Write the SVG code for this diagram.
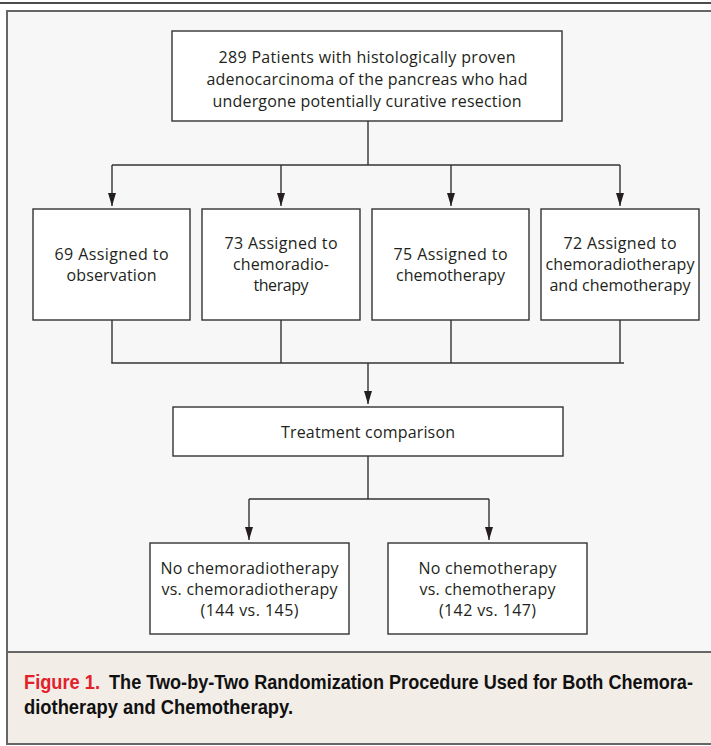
<svg xmlns="http://www.w3.org/2000/svg" width="711" height="746" viewBox="0 0 711 746">
  <defs>
    <marker id="arr" viewBox="0 0 13 8" refX="13" refY="4" markerWidth="13" markerHeight="8" markerUnits="userSpaceOnUse" orient="auto">
      <path d="M0,0 L13,4 L0,8 z" fill="#231f20"/>
    </marker>
    <style>
      .box { fill: #ffffff; stroke: #333333; stroke-width: 1.4; }
      .t { font-family: "Open Sans", "Noto Sans", "DejaVu Sans", sans-serif; font-size: 16px; fill: #231f20; text-anchor: middle; }
      .ln { fill: none; stroke: #333333; stroke-width: 1.4; }
      .cap { font-family: "Liberation Sans", Arial, sans-serif; font-weight: bold; font-size: 19.5px; }
    </style>
  </defs>

  <rect x="0" y="0" width="711" height="746" fill="#ffffff"/>
  <line x1="0" y1="3" x2="711" y2="3" stroke="#111111" stroke-width="1.5"/>
  <rect x="7" y="11" width="710" height="641" fill="#f7f7f7" stroke="#666666" stroke-width="2"/>
  <rect x="7" y="652" width="710" height="92" fill="#f2ede7" stroke="#666666" stroke-width="2"/>

  <g id="connectors">
    <polyline class="ln" points="368,121 368,165"/>
    <line class="ln" x1="112" y1="165" x2="620" y2="165"/>
    <line class="ln" x1="112" y1="165" x2="112" y2="206" marker-end="url(#arr)"/>
    <line class="ln" x1="281" y1="165" x2="281" y2="206" marker-end="url(#arr)"/>
    <line class="ln" x1="451" y1="165" x2="451" y2="206" marker-end="url(#arr)"/>
    <line class="ln" x1="620" y1="165" x2="620" y2="206" marker-end="url(#arr)"/>
    <line class="ln" x1="112" y1="320" x2="112" y2="363"/>
    <line class="ln" x1="281" y1="320" x2="281" y2="363"/>
    <line class="ln" x1="451" y1="320" x2="451" y2="363"/>
    <line class="ln" x1="620" y1="320" x2="620" y2="363"/>
    <line class="ln" x1="111.3" y1="363" x2="624" y2="363"/>
    <line class="ln" x1="368" y1="363" x2="368" y2="404" marker-end="url(#arr)"/>
    <line class="ln" x1="368" y1="456" x2="368" y2="499"/>
    <line class="ln" x1="249" y1="499" x2="489" y2="499"/>
    <line class="ln" x1="249" y1="499" x2="249" y2="540" marker-end="url(#arr)"/>
    <line class="ln" x1="489" y1="499" x2="489" y2="540" marker-end="url(#arr)"/>
  </g>

  <g id="n-patients">
    <rect class="box" x="172" y="31" width="390" height="90"/>
    <text class="t" x="367" y="63" textLength="297">289 Patients with histologically proven</text>
    <text class="t" x="367" y="85" textLength="321">adenocarcinoma of the pancreas who had</text>
    <text class="t" x="367" y="107" textLength="309">undergone potentially curative resection</text>
  </g>

  <g id="n-observation">
    <rect class="box" x="33" y="209" width="157" height="111"/>
    <text class="t" x="111.5" y="260" textLength="114">69 Assigned to</text>
    <text class="t" x="111.5" y="281" textLength="90">observation</text>
  </g>

  <g id="n-chemoradio">
    <rect class="box" x="202" y="209" width="158" height="111"/>
    <text class="t" x="281" y="249" textLength="113">73 Assigned to</text>
    <text class="t" x="281" y="270" textLength="96">chemoradio-</text>
    <text class="t" x="281" y="291" textLength="55">therapy</text>
  </g>

  <g id="n-chemo">
    <rect class="box" x="372" y="209" width="157" height="111"/>
    <text class="t" x="450.5" y="260" textLength="114">75 Assigned to</text>
    <text class="t" x="450.5" y="281" textLength="109">chemotherapy</text>
  </g>

  <g id="n-both">
    <rect class="box" x="541" y="209" width="158" height="111"/>
    <text class="t" x="620" y="249" textLength="113">72 Assigned to</text>
    <text class="t" x="620" y="270" textLength="149">chemoradiotherapy</text>
    <text class="t" x="620" y="291" textLength="141">and chemotherapy</text>
  </g>

  <g id="n-comparison">
    <rect class="box" x="173" y="407" width="390" height="49"/>
    <text class="t" x="368" y="438" textLength="174">Treatment comparison</text>
  </g>

  <g id="n-crt-compare">
    <rect class="box" x="150" y="543" width="199" height="91"/>
    <text class="t" x="249.5" y="574" textLength="178">No chemoradiotherapy</text>
    <text class="t" x="249.5" y="595" textLength="176">vs. chemoradiotherapy</text>
    <text class="t" x="249.5" y="616" textLength="98">(144 vs. 145)</text>
  </g>

  <g id="n-ct-compare">
    <rect class="box" x="388" y="543" width="199" height="91"/>
    <text class="t" x="487.5" y="574" textLength="138">No chemotherapy</text>
    <text class="t" x="487.5" y="595" textLength="136">vs. chemotherapy</text>
    <text class="t" x="487.5" y="616" textLength="97">(142 vs. 147)</text>
  </g>

  <g id="caption">
    <text class="cap" transform="translate(24,689) scale(0.88,1)" x="0" y="0" fill="#e2212b" textLength="86.4" lengthAdjust="spacingAndGlyphs">Figure 1.</text>
    <text class="cap" transform="translate(109,689) scale(0.88,1)" x="0" y="0" fill="#111111" textLength="663.6" lengthAdjust="spacingAndGlyphs">The Two-by-Two Randomization Procedure Used for Both Chemora-</text>
    <text class="cap" transform="translate(24,714) scale(0.88,1)" x="0" y="0" fill="#111111" textLength="305.7" lengthAdjust="spacingAndGlyphs">diotherapy and Chemotherapy.</text>
  </g>
</svg>
